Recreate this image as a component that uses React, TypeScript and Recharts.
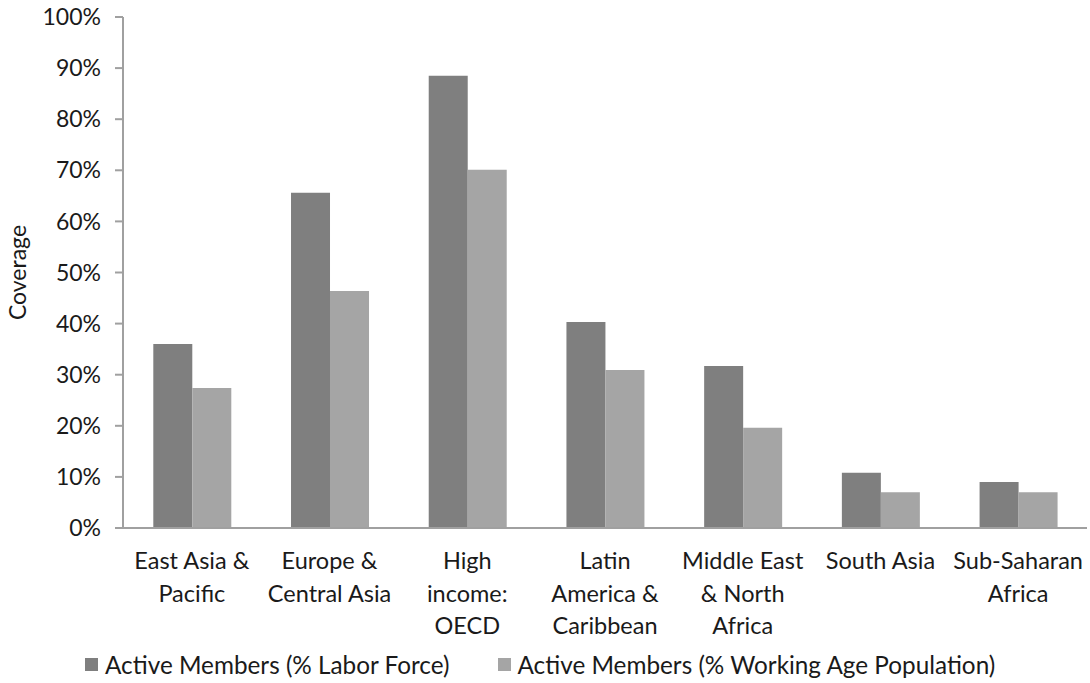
import React from "react";
import { BarChart, Bar, XAxis, YAxis } from "recharts";

const categories = [
  "East Asia & Pacific",
  "Europe & Central Asia",
  "High income: OECD",
  "Latin America & Caribbean",
  "Middle East & North Africa",
  "South Asia",
  "Sub-Saharan Africa",
];
const categoryLines = [
  ["East Asia &", "Pacific"],
  ["Europe &", "Central Asia"],
  ["High", "income:", "OECD"],
  ["Latin", "America &", "Caribbean"],
  ["Middle East", "& North", "Africa"],
  ["South Asia"],
  ["Sub-Saharan", "Africa"],
];
const laborForce = [36.0, 65.6, 88.5, 40.3, 31.7, 10.8, 9.0];
const workingAge = [27.4, 46.4, 70.1, 30.9, 19.6, 7.0, 7.0];
const yTicks = [0, 10, 20, 30, 40, 50, 60, 70, 80, 90, 100];
const seriesNames = [
  "Active Members (% Labor Force)",
  "Active Members (% Working Age Population)",
];
const colors = ["#7f7f7f", "#a5a5a5"];

const data = categories.map((c, i) => ({
  name: c,
  lf: laborForce[i],
  wa: workingAge[i],
}));

const FONT = "Lato, 'Liberation Sans', sans-serif";
const TEXT = "#1a1a1a";

const XTick = (props: any) => {
  const { x, y, index } = props;
  const lines = categoryLines[index] || [];
  return (
    <g>
      {lines.map((l, i) => (
        <text
          key={i}
          x={x}
          y={y + 33 + i * 32.5}
          textAnchor="middle"
          fontFamily={FONT}
          fontSize={23.5}
          fill={TEXT}
        >
          {l}
        </text>
      ))}
    </g>
  );
};

const Legend = () => (
  <div
    style={{
      position: "absolute",
      left: 85,
      top: 650,
      display: "flex",
      fontFamily: FONT,
      fontSize: 24.3,
      color: TEXT,
      whiteSpace: "nowrap",
    }}
  >
    {seriesNames.map((n, i) => (
      <div key={i} style={{ display: "flex", alignItems: "center", marginRight: i === 0 ? 48 : 0 }}>
        <div style={{ width: 13, height: 13, background: colors[i], marginRight: 7 }} />
        <span>{n}</span>
      </div>
    ))}
  </div>
);

export default function App() {
  return (
    <div style={{ position: "absolute", left: 0, top: 0, width: 1090, height: 683, background: "#fff" }}>
      <BarChart
        width={1090}
        height={683}
        data={data}
        margin={{ top: 17, right: 3, left: 0, bottom: 0 }}
        barGap={0}
        barCategoryGap="22%"
      >
        <XAxis
          dataKey="name"
          tick={<XTick />}
          tickLine={false}
          axisLine={{ stroke: "#a0a0a0", strokeWidth: 2 }}
          interval={0}
          height={155}
        />
        <YAxis
          domain={[0, 100]}
          ticks={yTicks}
          interval={0}
          width={123}
          tickFormatter={(v: number) => `${v}%`}
          tick={{ fontFamily: FONT, fontSize: 23, fill: TEXT, dx: -12 }}
          tickLine={{ stroke: "#a0a0a0", strokeWidth: 2 }}
          tickSize={8}
          axisLine={{ stroke: "#a0a0a0", strokeWidth: 2 }}
          label={{
            value: "Coverage",
            angle: -90,
            position: "insideLeft",
            offset: 18,
            style: { fontFamily: FONT, fontSize: 23, fill: TEXT, textAnchor: "middle" },
          }}
        />
        <Bar dataKey="lf" fill={colors[0]} isAnimationActive={false} />
        <Bar dataKey="wa" fill={colors[1]} isAnimationActive={false} />
      </BarChart>
      <Legend />
    </div>
  );
}
